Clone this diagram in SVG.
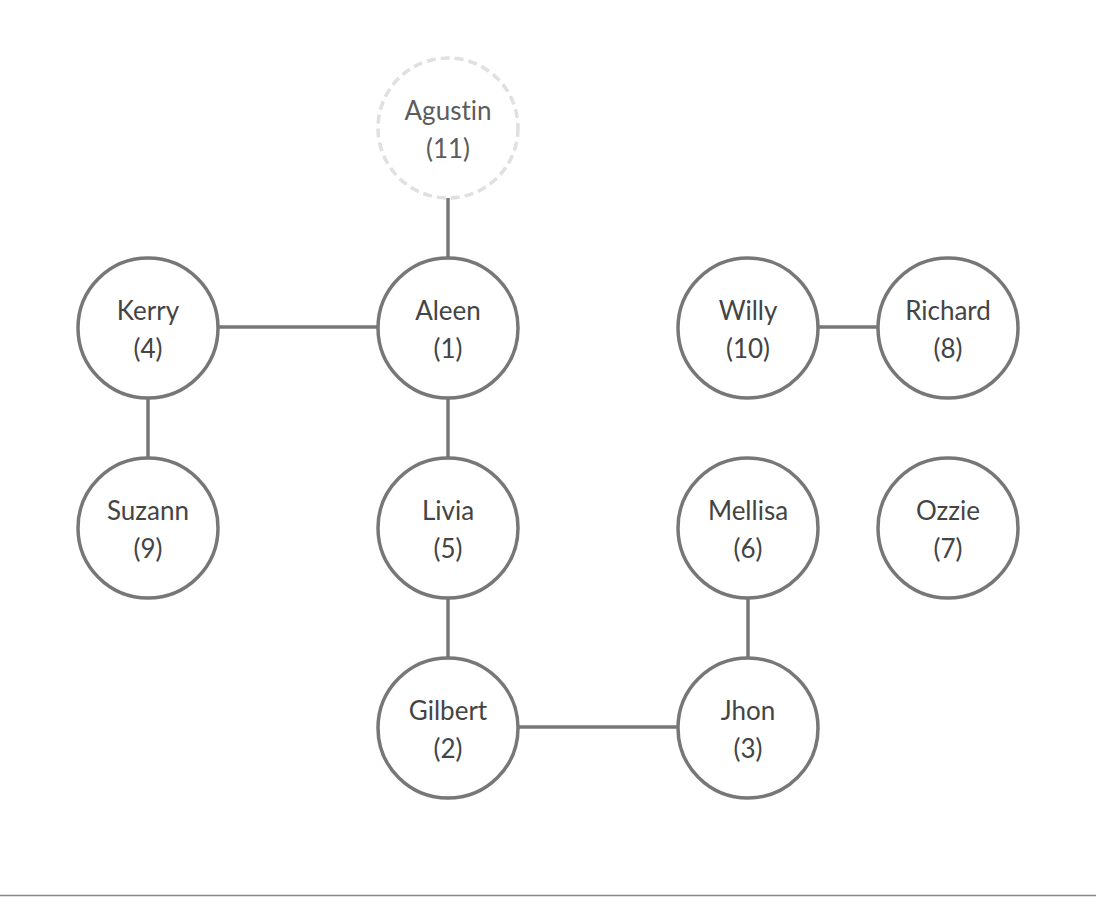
<svg xmlns="http://www.w3.org/2000/svg" width="1096" height="897" viewBox="0 0 1096 897">
<style>
.n{fill:#fff;stroke:#777;stroke-width:3.5}
.d{fill:#fff;stroke:#e2dfe2;stroke-width:3.5;stroke-dasharray:9 5}
.e{stroke:#777;stroke-width:3.5;fill:none}
text{font-family:Lato,"Open Sans","Liberation Sans",sans-serif;font-size:26px;fill:#444;text-anchor:middle;font-variant-ligatures:none}
.g{fill:#5c5c5c}
</style>
<rect width="1096" height="897" fill="#fff"/>
<g id="connectors">
<line class="e" x1="448" y1="198" x2="448" y2="258"/>
<line class="e" x1="218" y1="327" x2="378" y2="327"/>
<line class="e" x1="148" y1="398" x2="148" y2="458"/>
<line class="e" x1="448" y1="398" x2="448" y2="458"/>
<line class="e" x1="448" y1="598" x2="448" y2="658"/>
<line class="e" x1="518" y1="727" x2="678" y2="727"/>
<line class="e" x1="748" y1="598" x2="748" y2="658"/>
<line class="e" x1="818" y1="327" x2="878" y2="327"/>
</g>
<g id="agustin"><circle class="d" cx="448" cy="128" r="70"/><text class="g" x="448" y="120">Agustin</text><text class="g" x="448" y="158">(11)</text></g>
<g id="aleen"><circle class="n" cx="448" cy="328" r="70"/><text x="448" y="320">Aleen</text><text x="448" y="358">(1)</text></g>
<g id="kerry"><circle class="n" cx="148" cy="328" r="70"/><text x="148" y="320">Kerry</text><text x="148" y="358">(4)</text></g>
<g id="willy"><circle class="n" cx="748" cy="328" r="70"/><text x="748" y="320">Willy</text><text x="748" y="358">(10)</text></g>
<g id="richard"><circle class="n" cx="948" cy="328" r="70"/><text x="948" y="320">Richard</text><text x="948" y="358">(8)</text></g>
<g id="suzann"><circle class="n" cx="148" cy="528" r="70"/><text x="148" y="520">Suzann</text><text x="148" y="558">(9)</text></g>
<g id="livia"><circle class="n" cx="448" cy="528" r="70"/><text x="448" y="520">Livia</text><text x="448" y="558">(5)</text></g>
<g id="mellisa"><circle class="n" cx="748" cy="528" r="70"/><text x="748" y="520">Mellisa</text><text x="748" y="558">(6)</text></g>
<g id="ozzie"><circle class="n" cx="948" cy="528" r="70"/><text x="948" y="520">Ozzie</text><text x="948" y="558">(7)</text></g>
<g id="gilbert"><circle class="n" cx="448" cy="728" r="70"/><text x="448" y="720">Gilbert</text><text x="448" y="758">(2)</text></g>
<g id="jhon"><circle class="n" cx="748" cy="728" r="70"/><text x="748" y="720">Jhon</text><text x="748" y="758">(3)</text></g>
<line x1="0" y1="895.5" x2="1096" y2="895.5" stroke="#888" stroke-width="1.5"/>
</svg>
